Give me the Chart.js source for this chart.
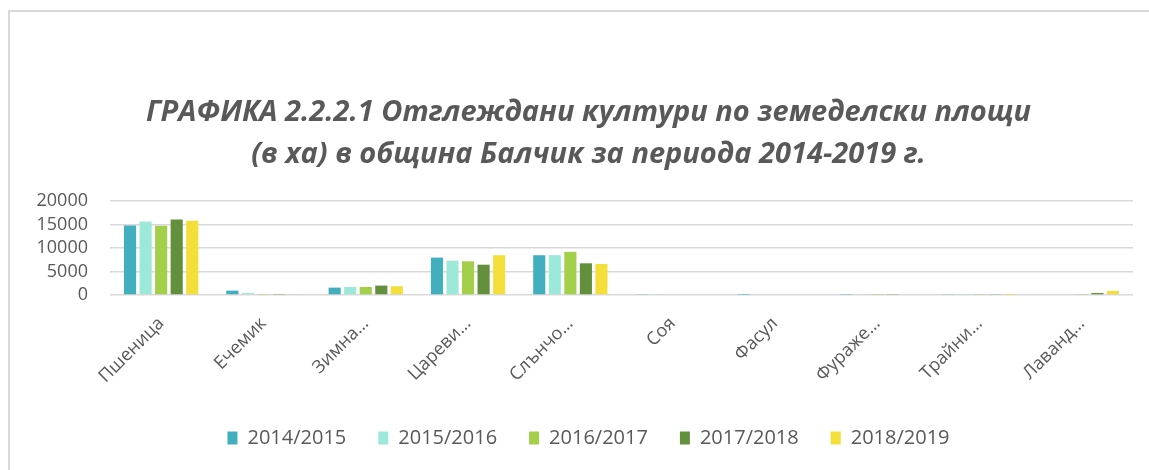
<!DOCTYPE html>
<html lang="bg">
<head>
<meta charset="utf-8">
<title>ГРАФИКА 2.2.2.1</title>
<script src="https://cdn.jsdelivr.net/npm/chart.js@4/dist/chart.umd.min.js"></script>
<style>
  html, body { margin: 0; padding: 0; background: #fff; }
  body { width: 1149px; height: 470px; position: relative; overflow: hidden; }
  .frame {
    position: absolute; left: 8px; top: 10px; width: 1200px; height: 500px;
    border-left: 2px solid #d9d9d9; border-top: 2px solid #d9d9d9;
  }
  .wrap { position: absolute; left: 0; top: 0; width: 1149px; height: 470px; }
</style>
</head>
<body>
<div class="frame"></div>
<div class="wrap"><canvas id="cropChart"></canvas></div>
<script>
// ========== DATA ==========
const categories = ['Пшеница', 'Ечемик', 'Зимна…', 'Цареви…', 'Слънчо…', 'Соя', 'Фасул', 'Фураже…', 'Трайни…', 'Лаванд…'];
const seasons = ['2014/2015', '2015/2016', '2016/2017', '2017/2018', '2018/2019'];
const area2014 = [14800, 930, 1570, 7960, 8460, 120, 60, 100, 120, 0];
const area2015 = [15650, 430, 1720, 7310, 8480, 130, 0, 0, 110, 0];
const area2016 = [14750, 220, 1720, 7170, 9180, 0, 0, 90, 220, 220];
const area2017 = [16060, 220, 2000, 6450, 6740, 0, 0, 110, 120, 430];
const area2018 = [15770, 150, 1860, 8460, 6600, 0, 0, 0, 60, 860];
const yTicks = [0, 5000, 10000, 15000, 20000];
const colors = ['#42afbf', '#9de9d9', '#a3cf4a', '#62903c', '#f4df3a'];

const titleLines = [
  'ГРАФИКА 2.2.2.1 Отглеждани култури по земеделски площи',
  '(в ха) в община Балчик за периода 2014-2019 г.'
];

// title and legend sit a bit right of the canvas centre in the original
const shiftBoxes = {
  id: 'shiftBoxes',
  afterLayout(chart) {
    [chart.titleBlock, chart.legend].forEach(box => {
      if (!box) return;
      box.left += 17;
      box.right += 17;
    });
  }
};

// ========== CHART ==========
function initCropChart() {
  const ctx = document.getElementById('cropChart');
  const series = [area2014, area2015, area2016, area2017, area2018];
  const textColor = '#595959';
  const fontFamily = '"Open Sans", Lato, sans-serif';

  new Chart(ctx.getContext('2d'), {
    type: 'bar',
    data: {
      labels: categories,
      datasets: series.map((data, i) => ({
        label: seasons[i],
        data: data,
        backgroundColor: colors[i],
        categoryPercentage: 0.76,
        barPercentage: 0.78
      }))
    },
    plugins: [shiftBoxes],
    options: {
      responsive: true,
      maintainAspectRatio: false,
      animation: false,
      layout: { padding: { left: 10, right: 16, top: 0, bottom: 12 } },
      plugins: {
        title: {
          display: true,
          text: titleLines,
          color: textColor,
          font: { family: fontFamily, size: 29, weight: 'bold', style: 'italic', lineHeight: 1.448 },
          padding: { top: 92, bottom: 25 }
        },
        legend: {
          position: 'bottom',
          labels: {
            color: textColor,
            font: { family: fontFamily, size: 20 },
            boxWidth: 10,
            boxHeight: 13,
            padding: 32
          }
        },
        tooltip: { enabled: false }
      },
      scales: {
        x: {
          grid: { display: false },
          border: { display: false },
          ticks: {
            color: textColor,
            font: { family: fontFamily, size: 18 },
            minRotation: 45,
            maxRotation: 45,
            autoSkip: false,
            padding: 10
          },
          afterFit: s => { s.height = 101; }
        },
        y: {
          min: 0,
          max: 20000,
          border: { display: false },
          grid: { color: '#d9d9d9', lineWidth: 1.5, drawTicks: false },
          afterBuildTicks: s => { s.ticks = yTicks.map(v => ({ value: v })); },
          ticks: {
            color: textColor,
            font: { family: fontFamily, size: 18 },
            padding: 22,
            autoSkip: false,
            callback: v => String(v)
          },
          afterFit: s => { s.width = 100; }
        }
      }
    }
  });
}

// ========== PAGE INITIALIZATION ==========
document.addEventListener('DOMContentLoaded', () => {
  initCropChart();
});
</script>
</body>
</html>
